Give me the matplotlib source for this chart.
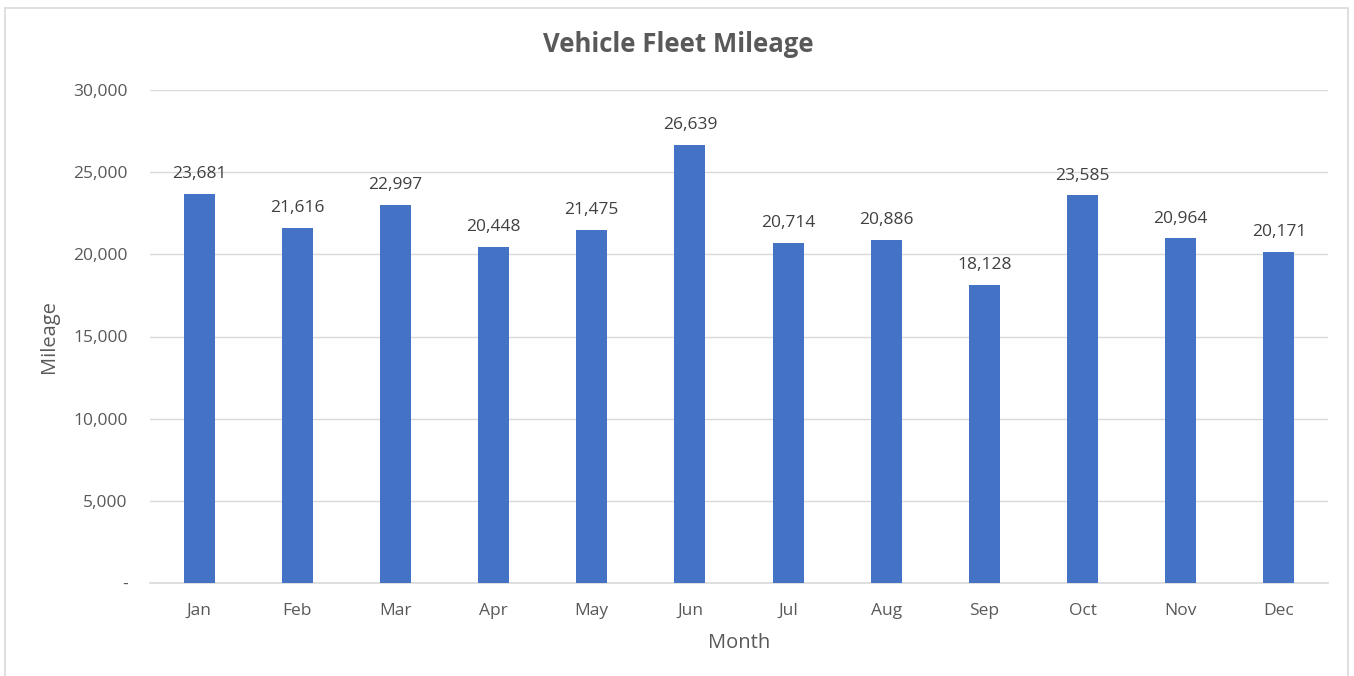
import matplotlib
matplotlib.use("Agg")
import matplotlib.pyplot as plt
from matplotlib.patches import Rectangle
from matplotlib.ticker import FuncFormatter

months = ["Jan", "Feb", "Mar", "Apr", "May", "Jun",
          "Jul", "Aug", "Sep", "Oct", "Nov", "Dec"]
mileage = [23681, 21616, 22997, 20448, 21475, 26639,
           20714, 20886, 18128, 23585, 20964, 20171]

plt.rcParams['font.family'] = ['Open Sans', 'DejaVu Sans']
text_col = '#595959'

fig = plt.figure(figsize=(13.54, 6.76), dpi=100)
W, H = 1354, 676

# outer chart border
fig.patches.append(Rectangle((5 / W, -0.01), 1343 / W, 1 - 8 / H + 0.01,
                             transform=fig.transFigure, fill=False,
                             edgecolor='#D9D9D9', linewidth=1.2))

ax = fig.add_axes([150 / W, 1 - 583 / H, 1178 / W, (583 - 90) / H])

x = range(len(months))
bars = ax.bar(x, mileage, width=0.316, color='#4472C4', zorder=3)
for xi, v in zip(x, mileage):
    ax.annotate(f"{v:,}", (xi, v), xytext=(0, 8.5), textcoords='offset points',
                ha='center', va='bottom', fontsize=12.5, color='#404040')

ax.set_xlim(-0.5, len(months) - 0.5)
ax.set_ylim(0, 30000)
ax.set_yticks(range(0, 30001, 5000))
ax.yaxis.set_major_formatter(FuncFormatter(lambda v, p: "-" if v == 0 else f"{int(v):,}"))
ax.set_xticks(list(x))
ax.set_xticklabels(months)
ax.grid(axis='y', color='#D9D9D9', linewidth=1, zorder=0)
ax.tick_params(axis='both', length=0, labelsize=12.5, labelcolor=text_col)
ax.tick_params(axis='y', pad=16)
ax.tick_params(axis='x', pad=14.5)
for s in ['top', 'right', 'left']:
    ax.spines[s].set_visible(False)
ax.spines['bottom'].set_color('#D9D9D9')
ax.spines['bottom'].set_linewidth(1.2)

ax.set_xlabel("Month", fontsize=14.5, color=text_col, labelpad=10)
ax.set_ylabel("Mileage", fontsize=14.5, color=text_col, labelpad=10)
fig.text(678 / W, 1 - 44 / H, "Vehicle Fleet Mileage", ha='center', va='center',
         fontsize=18.5, fontweight='bold', color=text_col)

fig.savefig("out.png", dpi=100)
